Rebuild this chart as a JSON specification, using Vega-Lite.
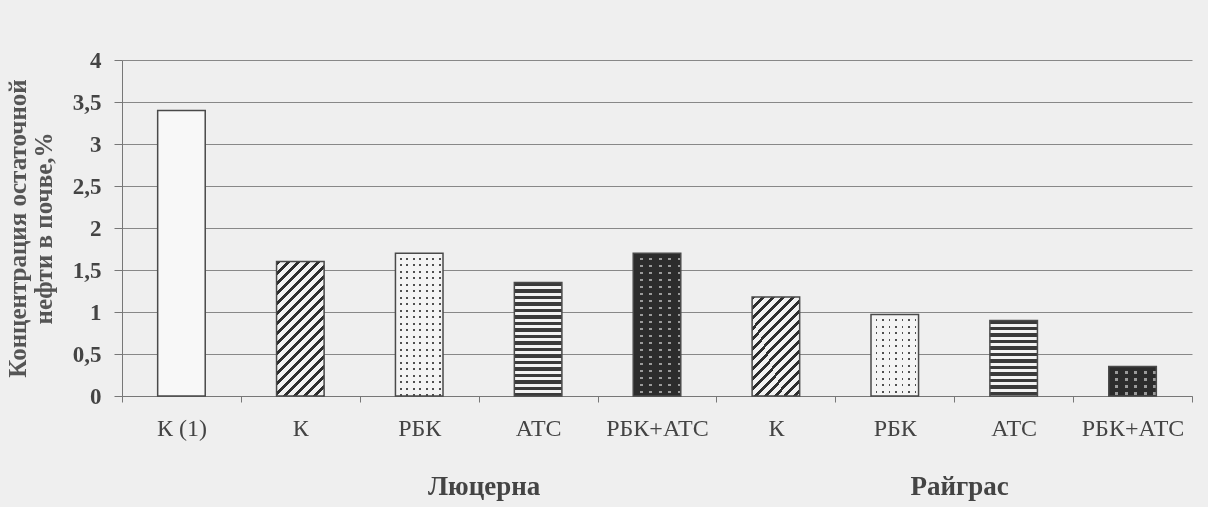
{
  "$schema": "https://vega.github.io/schema/vega-lite/v6.json",
  "width": 1070,
  "height": 336,
  "autosize": "none",
  "padding": {"left": 122, "top": 60, "right": 16, "bottom": 111},
  "background": "#efefef",
  "config": {"view": {"stroke": null}},
  "params": [
    {"name": "hst", "value": [
      {"offset":0,"color":"#3a3a3a"},{"offset":0.0275,"color":"#3a3a3a"},{"offset":0.0275,"color":"#f2f2f2"},{"offset":0.05,"color":"#f2f2f2"},
      {"offset":0.05,"color":"#3a3a3a"},{"offset":0.0775,"color":"#3a3a3a"},{"offset":0.0775,"color":"#f2f2f2"},{"offset":0.1,"color":"#f2f2f2"},
      {"offset":0.1,"color":"#3a3a3a"},{"offset":0.1275,"color":"#3a3a3a"},{"offset":0.1275,"color":"#f2f2f2"},{"offset":0.15,"color":"#f2f2f2"},
      {"offset":0.15,"color":"#3a3a3a"},{"offset":0.1775,"color":"#3a3a3a"},{"offset":0.1775,"color":"#f2f2f2"},{"offset":0.2,"color":"#f2f2f2"},
      {"offset":0.2,"color":"#3a3a3a"},{"offset":0.2275,"color":"#3a3a3a"},{"offset":0.2275,"color":"#f2f2f2"},{"offset":0.25,"color":"#f2f2f2"},
      {"offset":0.25,"color":"#3a3a3a"},{"offset":0.2775,"color":"#3a3a3a"},{"offset":0.2775,"color":"#f2f2f2"},{"offset":0.3,"color":"#f2f2f2"},
      {"offset":0.3,"color":"#3a3a3a"},{"offset":0.3275,"color":"#3a3a3a"},{"offset":0.3275,"color":"#f2f2f2"},{"offset":0.35,"color":"#f2f2f2"},
      {"offset":0.35,"color":"#3a3a3a"},{"offset":0.3775,"color":"#3a3a3a"},{"offset":0.3775,"color":"#f2f2f2"},{"offset":0.4,"color":"#f2f2f2"},
      {"offset":0.4,"color":"#3a3a3a"},{"offset":0.4275,"color":"#3a3a3a"},{"offset":0.4275,"color":"#f2f2f2"},{"offset":0.45,"color":"#f2f2f2"},
      {"offset":0.45,"color":"#3a3a3a"},{"offset":0.4775,"color":"#3a3a3a"},{"offset":0.4775,"color":"#f2f2f2"},{"offset":0.5,"color":"#f2f2f2"},
      {"offset":0.5,"color":"#3a3a3a"},{"offset":0.5275,"color":"#3a3a3a"},{"offset":0.5275,"color":"#f2f2f2"},{"offset":0.55,"color":"#f2f2f2"},
      {"offset":0.55,"color":"#3a3a3a"},{"offset":0.5775,"color":"#3a3a3a"},{"offset":0.5775,"color":"#f2f2f2"},{"offset":0.6,"color":"#f2f2f2"},
      {"offset":0.6,"color":"#3a3a3a"},{"offset":0.6275,"color":"#3a3a3a"},{"offset":0.6275,"color":"#f2f2f2"},{"offset":0.65,"color":"#f2f2f2"},
      {"offset":0.65,"color":"#3a3a3a"},{"offset":0.6775,"color":"#3a3a3a"},{"offset":0.6775,"color":"#f2f2f2"},{"offset":0.7,"color":"#f2f2f2"},
      {"offset":0.7,"color":"#3a3a3a"},{"offset":0.7275,"color":"#3a3a3a"},{"offset":0.7275,"color":"#f2f2f2"},{"offset":0.75,"color":"#f2f2f2"},
      {"offset":0.75,"color":"#3a3a3a"},{"offset":0.7775,"color":"#3a3a3a"},{"offset":0.7775,"color":"#f2f2f2"},{"offset":0.8,"color":"#f2f2f2"},
      {"offset":0.8,"color":"#3a3a3a"},{"offset":0.8275,"color":"#3a3a3a"},{"offset":0.8275,"color":"#f2f2f2"},{"offset":0.85,"color":"#f2f2f2"},
      {"offset":0.85,"color":"#3a3a3a"},{"offset":0.8775,"color":"#3a3a3a"},{"offset":0.8775,"color":"#f2f2f2"},{"offset":0.9,"color":"#f2f2f2"},
      {"offset":0.9,"color":"#3a3a3a"},{"offset":0.9275,"color":"#3a3a3a"},{"offset":0.9275,"color":"#f2f2f2"},{"offset":0.95,"color":"#f2f2f2"},
      {"offset":0.95,"color":"#3a3a3a"},{"offset":0.9775,"color":"#3a3a3a"},{"offset":0.9775,"color":"#f2f2f2"},{"offset":1,"color":"#f2f2f2"}
    ]},
    {"name": "dia", "value": [
      {"offset":0,"color":"#2e2e2e"},{"offset":0.02,"color":"#2e2e2e"},{"offset":0.02,"color":"#f2f2f2"},{"offset":0.05,"color":"#f2f2f2"},
      {"offset":0.05,"color":"#2e2e2e"},{"offset":0.07,"color":"#2e2e2e"},{"offset":0.07,"color":"#f2f2f2"},{"offset":0.1,"color":"#f2f2f2"},
      {"offset":0.1,"color":"#2e2e2e"},{"offset":0.12,"color":"#2e2e2e"},{"offset":0.12,"color":"#f2f2f2"},{"offset":0.15,"color":"#f2f2f2"},
      {"offset":0.15,"color":"#2e2e2e"},{"offset":0.17,"color":"#2e2e2e"},{"offset":0.17,"color":"#f2f2f2"},{"offset":0.2,"color":"#f2f2f2"},
      {"offset":0.2,"color":"#2e2e2e"},{"offset":0.22,"color":"#2e2e2e"},{"offset":0.22,"color":"#f2f2f2"},{"offset":0.25,"color":"#f2f2f2"},
      {"offset":0.25,"color":"#2e2e2e"},{"offset":0.27,"color":"#2e2e2e"},{"offset":0.27,"color":"#f2f2f2"},{"offset":0.3,"color":"#f2f2f2"},
      {"offset":0.3,"color":"#2e2e2e"},{"offset":0.32,"color":"#2e2e2e"},{"offset":0.32,"color":"#f2f2f2"},{"offset":0.35,"color":"#f2f2f2"},
      {"offset":0.35,"color":"#2e2e2e"},{"offset":0.37,"color":"#2e2e2e"},{"offset":0.37,"color":"#f2f2f2"},{"offset":0.4,"color":"#f2f2f2"},
      {"offset":0.4,"color":"#2e2e2e"},{"offset":0.42,"color":"#2e2e2e"},{"offset":0.42,"color":"#f2f2f2"},{"offset":0.45,"color":"#f2f2f2"},
      {"offset":0.45,"color":"#2e2e2e"},{"offset":0.47,"color":"#2e2e2e"},{"offset":0.47,"color":"#f2f2f2"},{"offset":0.5,"color":"#f2f2f2"},
      {"offset":0.5,"color":"#2e2e2e"},{"offset":0.52,"color":"#2e2e2e"},{"offset":0.52,"color":"#f2f2f2"},{"offset":0.55,"color":"#f2f2f2"},
      {"offset":0.55,"color":"#2e2e2e"},{"offset":0.57,"color":"#2e2e2e"},{"offset":0.57,"color":"#f2f2f2"},{"offset":0.6,"color":"#f2f2f2"},
      {"offset":0.6,"color":"#2e2e2e"},{"offset":0.62,"color":"#2e2e2e"},{"offset":0.62,"color":"#f2f2f2"},{"offset":0.65,"color":"#f2f2f2"},
      {"offset":0.65,"color":"#2e2e2e"},{"offset":0.67,"color":"#2e2e2e"},{"offset":0.67,"color":"#f2f2f2"},{"offset":0.7,"color":"#f2f2f2"},
      {"offset":0.7,"color":"#2e2e2e"},{"offset":0.72,"color":"#2e2e2e"},{"offset":0.72,"color":"#f2f2f2"},{"offset":0.75,"color":"#f2f2f2"},
      {"offset":0.75,"color":"#2e2e2e"},{"offset":0.77,"color":"#2e2e2e"},{"offset":0.77,"color":"#f2f2f2"},{"offset":0.8,"color":"#f2f2f2"},
      {"offset":0.8,"color":"#2e2e2e"},{"offset":0.82,"color":"#2e2e2e"},{"offset":0.82,"color":"#f2f2f2"},{"offset":0.85,"color":"#f2f2f2"},
      {"offset":0.85,"color":"#2e2e2e"},{"offset":0.87,"color":"#2e2e2e"},{"offset":0.87,"color":"#f2f2f2"},{"offset":0.9,"color":"#f2f2f2"},
      {"offset":0.9,"color":"#2e2e2e"},{"offset":0.92,"color":"#2e2e2e"},{"offset":0.92,"color":"#f2f2f2"},{"offset":0.95,"color":"#f2f2f2"},
      {"offset":0.95,"color":"#2e2e2e"},{"offset":0.97,"color":"#2e2e2e"},{"offset":0.97,"color":"#f2f2f2"},{"offset":1,"color":"#f2f2f2"}
    ]},
    {"name": "ldot", "value": [
      {"offset":0,"color":"#f4f4f4"},{"offset":0.028,"color":"#f4f4f4"},{"offset":0.028,"color":"#505050"},{"offset":0.04,"color":"#505050"},
      {"offset":0.04,"color":"#f4f4f4"},{"offset":0.068,"color":"#f4f4f4"},{"offset":0.068,"color":"#505050"},{"offset":0.08,"color":"#505050"},
      {"offset":0.08,"color":"#f4f4f4"},{"offset":0.108,"color":"#f4f4f4"},{"offset":0.108,"color":"#505050"},{"offset":0.12,"color":"#505050"},
      {"offset":0.12,"color":"#f4f4f4"},{"offset":0.148,"color":"#f4f4f4"},{"offset":0.148,"color":"#505050"},{"offset":0.16,"color":"#505050"},
      {"offset":0.16,"color":"#f4f4f4"},{"offset":0.188,"color":"#f4f4f4"},{"offset":0.188,"color":"#505050"},{"offset":0.2,"color":"#505050"},
      {"offset":0.2,"color":"#f4f4f4"},{"offset":0.228,"color":"#f4f4f4"},{"offset":0.228,"color":"#505050"},{"offset":0.24,"color":"#505050"},
      {"offset":0.24,"color":"#f4f4f4"},{"offset":0.268,"color":"#f4f4f4"},{"offset":0.268,"color":"#505050"},{"offset":0.28,"color":"#505050"},
      {"offset":0.28,"color":"#f4f4f4"},{"offset":0.308,"color":"#f4f4f4"},{"offset":0.308,"color":"#505050"},{"offset":0.32,"color":"#505050"},
      {"offset":0.32,"color":"#f4f4f4"},{"offset":0.348,"color":"#f4f4f4"},{"offset":0.348,"color":"#505050"},{"offset":0.36,"color":"#505050"},
      {"offset":0.36,"color":"#f4f4f4"},{"offset":0.388,"color":"#f4f4f4"},{"offset":0.388,"color":"#505050"},{"offset":0.4,"color":"#505050"},
      {"offset":0.4,"color":"#f4f4f4"},{"offset":0.428,"color":"#f4f4f4"},{"offset":0.428,"color":"#505050"},{"offset":0.44,"color":"#505050"},
      {"offset":0.44,"color":"#f4f4f4"},{"offset":0.468,"color":"#f4f4f4"},{"offset":0.468,"color":"#505050"},{"offset":0.48,"color":"#505050"},
      {"offset":0.48,"color":"#f4f4f4"},{"offset":0.508,"color":"#f4f4f4"},{"offset":0.508,"color":"#505050"},{"offset":0.52,"color":"#505050"},
      {"offset":0.52,"color":"#f4f4f4"},{"offset":0.548,"color":"#f4f4f4"},{"offset":0.548,"color":"#505050"},{"offset":0.56,"color":"#505050"},
      {"offset":0.56,"color":"#f4f4f4"},{"offset":0.588,"color":"#f4f4f4"},{"offset":0.588,"color":"#505050"},{"offset":0.6,"color":"#505050"},
      {"offset":0.6,"color":"#f4f4f4"},{"offset":0.628,"color":"#f4f4f4"},{"offset":0.628,"color":"#505050"},{"offset":0.64,"color":"#505050"},
      {"offset":0.64,"color":"#f4f4f4"},{"offset":0.668,"color":"#f4f4f4"},{"offset":0.668,"color":"#505050"},{"offset":0.68,"color":"#505050"},
      {"offset":0.68,"color":"#f4f4f4"},{"offset":0.708,"color":"#f4f4f4"},{"offset":0.708,"color":"#505050"},{"offset":0.72,"color":"#505050"},
      {"offset":0.72,"color":"#f4f4f4"},{"offset":0.748,"color":"#f4f4f4"},{"offset":0.748,"color":"#505050"},{"offset":0.76,"color":"#505050"},
      {"offset":0.76,"color":"#f4f4f4"},{"offset":0.788,"color":"#f4f4f4"},{"offset":0.788,"color":"#505050"},{"offset":0.8,"color":"#505050"},
      {"offset":0.8,"color":"#f4f4f4"},{"offset":0.828,"color":"#f4f4f4"},{"offset":0.828,"color":"#505050"},{"offset":0.84,"color":"#505050"},
      {"offset":0.84,"color":"#f4f4f4"},{"offset":0.868,"color":"#f4f4f4"},{"offset":0.868,"color":"#505050"},{"offset":0.88,"color":"#505050"},
      {"offset":0.88,"color":"#f4f4f4"},{"offset":0.908,"color":"#f4f4f4"},{"offset":0.908,"color":"#505050"},{"offset":0.92,"color":"#505050"},
      {"offset":0.92,"color":"#f4f4f4"},{"offset":0.948,"color":"#f4f4f4"},{"offset":0.948,"color":"#505050"},{"offset":0.96,"color":"#505050"},
      {"offset":0.96,"color":"#f4f4f4"},{"offset":0.988,"color":"#f4f4f4"},{"offset":0.988,"color":"#505050"},{"offset":1,"color":"#505050"}
    ]},
    {"name": "ddot", "value": [
      {"offset":0,"color":"#2c2c2c"},{"offset":0.028,"color":"#2c2c2c"},{"offset":0.028,"color":"#9a9a9a"},{"offset":0.04,"color":"#9a9a9a"},
      {"offset":0.04,"color":"#2c2c2c"},{"offset":0.068,"color":"#2c2c2c"},{"offset":0.068,"color":"#9a9a9a"},{"offset":0.08,"color":"#9a9a9a"},
      {"offset":0.08,"color":"#2c2c2c"},{"offset":0.108,"color":"#2c2c2c"},{"offset":0.108,"color":"#9a9a9a"},{"offset":0.12,"color":"#9a9a9a"},
      {"offset":0.12,"color":"#2c2c2c"},{"offset":0.148,"color":"#2c2c2c"},{"offset":0.148,"color":"#9a9a9a"},{"offset":0.16,"color":"#9a9a9a"},
      {"offset":0.16,"color":"#2c2c2c"},{"offset":0.188,"color":"#2c2c2c"},{"offset":0.188,"color":"#9a9a9a"},{"offset":0.2,"color":"#9a9a9a"},
      {"offset":0.2,"color":"#2c2c2c"},{"offset":0.228,"color":"#2c2c2c"},{"offset":0.228,"color":"#9a9a9a"},{"offset":0.24,"color":"#9a9a9a"},
      {"offset":0.24,"color":"#2c2c2c"},{"offset":0.268,"color":"#2c2c2c"},{"offset":0.268,"color":"#9a9a9a"},{"offset":0.28,"color":"#9a9a9a"},
      {"offset":0.28,"color":"#2c2c2c"},{"offset":0.308,"color":"#2c2c2c"},{"offset":0.308,"color":"#9a9a9a"},{"offset":0.32,"color":"#9a9a9a"},
      {"offset":0.32,"color":"#2c2c2c"},{"offset":0.348,"color":"#2c2c2c"},{"offset":0.348,"color":"#9a9a9a"},{"offset":0.36,"color":"#9a9a9a"},
      {"offset":0.36,"color":"#2c2c2c"},{"offset":0.388,"color":"#2c2c2c"},{"offset":0.388,"color":"#9a9a9a"},{"offset":0.4,"color":"#9a9a9a"},
      {"offset":0.4,"color":"#2c2c2c"},{"offset":0.428,"color":"#2c2c2c"},{"offset":0.428,"color":"#9a9a9a"},{"offset":0.44,"color":"#9a9a9a"},
      {"offset":0.44,"color":"#2c2c2c"},{"offset":0.468,"color":"#2c2c2c"},{"offset":0.468,"color":"#9a9a9a"},{"offset":0.48,"color":"#9a9a9a"},
      {"offset":0.48,"color":"#2c2c2c"},{"offset":0.508,"color":"#2c2c2c"},{"offset":0.508,"color":"#9a9a9a"},{"offset":0.52,"color":"#9a9a9a"},
      {"offset":0.52,"color":"#2c2c2c"},{"offset":0.548,"color":"#2c2c2c"},{"offset":0.548,"color":"#9a9a9a"},{"offset":0.56,"color":"#9a9a9a"},
      {"offset":0.56,"color":"#2c2c2c"},{"offset":0.588,"color":"#2c2c2c"},{"offset":0.588,"color":"#9a9a9a"},{"offset":0.6,"color":"#9a9a9a"},
      {"offset":0.6,"color":"#2c2c2c"},{"offset":0.628,"color":"#2c2c2c"},{"offset":0.628,"color":"#9a9a9a"},{"offset":0.64,"color":"#9a9a9a"},
      {"offset":0.64,"color":"#2c2c2c"},{"offset":0.668,"color":"#2c2c2c"},{"offset":0.668,"color":"#9a9a9a"},{"offset":0.68,"color":"#9a9a9a"},
      {"offset":0.68,"color":"#2c2c2c"},{"offset":0.708,"color":"#2c2c2c"},{"offset":0.708,"color":"#9a9a9a"},{"offset":0.72,"color":"#9a9a9a"},
      {"offset":0.72,"color":"#2c2c2c"},{"offset":0.748,"color":"#2c2c2c"},{"offset":0.748,"color":"#9a9a9a"},{"offset":0.76,"color":"#9a9a9a"},
      {"offset":0.76,"color":"#2c2c2c"},{"offset":0.788,"color":"#2c2c2c"},{"offset":0.788,"color":"#9a9a9a"},{"offset":0.8,"color":"#9a9a9a"},
      {"offset":0.8,"color":"#2c2c2c"},{"offset":0.828,"color":"#2c2c2c"},{"offset":0.828,"color":"#9a9a9a"},{"offset":0.84,"color":"#9a9a9a"},
      {"offset":0.84,"color":"#2c2c2c"},{"offset":0.868,"color":"#2c2c2c"},{"offset":0.868,"color":"#9a9a9a"},{"offset":0.88,"color":"#9a9a9a"},
      {"offset":0.88,"color":"#2c2c2c"},{"offset":0.908,"color":"#2c2c2c"},{"offset":0.908,"color":"#9a9a9a"},{"offset":0.92,"color":"#9a9a9a"},
      {"offset":0.92,"color":"#2c2c2c"},{"offset":0.948,"color":"#2c2c2c"},{"offset":0.948,"color":"#9a9a9a"},{"offset":0.96,"color":"#9a9a9a"},
      {"offset":0.96,"color":"#2c2c2c"},{"offset":0.988,"color":"#2c2c2c"},{"offset":0.988,"color":"#9a9a9a"},{"offset":1,"color":"#9a9a9a"}
    ]}
  ],
  "data": {"values": [
    {"key": "Л|К (1)", "crop": "Люцерна", "treatment": "К (1)", "value": 3.4},
    {"key": "Л|К", "crop": "Люцерна", "treatment": "К", "value": 1.6},
    {"key": "Л|РБК", "crop": "Люцерна", "treatment": "РБК", "value": 1.7},
    {"key": "Л|АТС", "crop": "Люцерна", "treatment": "АТС", "value": 1.35},
    {"key": "Л|РБК+АТС", "crop": "Люцерна", "treatment": "РБК+АТС", "value": 1.7},
    {"key": "Р|К", "crop": "Райграс", "treatment": "К", "value": 1.18},
    {"key": "Р|РБК", "crop": "Райграс", "treatment": "РБК", "value": 0.97},
    {"key": "Р|АТС", "crop": "Райграс", "treatment": "АТС", "value": 0.9},
    {"key": "Р|РБК+АТС", "crop": "Райграс", "treatment": "РБК+АТС", "value": 0.35}
  ]},
  "encoding": {
    "x": {
      "field": "key", "type": "nominal",
      "scale": {"domain": ["Л|К (1)", "Л|К", "Л|РБК", "Л|АТС", "Л|РБК+АТС", "Р|К", "Р|РБК", "Р|АТС", "Р|РБК+АТС"], "paddingInner": 0, "paddingOuter": 0},
      "axis": {
        "title": null, "labelAngle": 0, "labelExpr": "split(datum.label,'|')[1]",
        "tickBand": "extent", "tickSize": 6, "tickColor": "#777", "domainColor": "#777",
        "labelFont": "Liberation Serif", "labelFontSize": 24, "labelColor": "#444", "labelPadding": 14, "grid": false
      }
    },
    "y": {
      "field": "value", "type": "quantitative",
      "scale": {"domain": [0, 4], "nice": false},
      "axis": {
        "values": [0, 0.5, 1, 1.5, 2, 2.5, 3, 3.5, 4],
        "labelExpr": "replace(format(datum.value,'~g'),'.',',')",
        "labelFont": "Liberation Serif", "labelFontSize": 23, "labelFontWeight": "bold", "labelColor": "#444", "labelPadding": 13,
        "tickSize": 8, "tickColor": "#777", "domainColor": "#777", "gridColor": "#888", "grid": true,
        "title": ["Концентрация остаточной", "нефти в почве,%"],
        "titleFont": "Liberation Serif", "titleFontSize": 25, "titleFontWeight": "bold", "titleColor": "#555",
        "titleAngle": -90, "titleX": -117, "titleY": 168, "titleAlign": "center", "titleBaseline": "top", "titleLineHeight": 26
      }
    }
  },
  "layer": [
    {"transform": [{"filter": {"field": "key", "equal": "Л|К (1)"}}],
     "mark": {"type": "bar", "width": {"band": 0.4}, "fill": "#f8f8f8"}},
    {"transform": [{"filter": {"field": "key", "equal": "Л|К"}}],
     "mark": {"type": "bar", "width": {"band": 0.4}, "fill": {"expr": "{gradient:'linear',x1:0,y1:0,x2:0.468,y2:1.322,stops:dia}"}}},
    {"transform": [{"filter": {"field": "key", "equal": "Р|К"}}],
     "mark": {"type": "bar", "width": {"band": 0.4}, "fill": {"expr": "{gradient:'linear',x1:0,y1:0,x2:0.788,y2:1.64,stops:dia}"}}},
    {"transform": [{"filter": {"field": "key", "equal": "Л|АТС"}}],
     "mark": {"type": "bar", "width": {"band": 0.4}, "fill": {"expr": "{gradient:'linear',x1:0,y1:0,x2:0,y2:1.146,stops:hst}"}}},
    {"transform": [{"filter": {"field": "key", "equal": "Р|АТС"}}],
     "mark": {"type": "bar", "width": {"band": 0.4}, "fill": {"expr": "{gradient:'linear',x1:0,y1:0,x2:0,y2:1.72,stops:hst}"}}},
    {"transform": [{"filter": {"field": "key", "equal": "Л|РБК"}}],
     "mark": {"type": "bar", "width": {"band": 0.4}, "fill": {"expr": "{gradient:'linear',x1:0,y1:0,x2:0,y2:1.138,stops:ldot}"}}},
    {"transform": [{"filter": {"field": "key", "equal": "Л|РБК"}}],
     "mark": {"type": "bar", "width": {"band": 0.4}, "blend": "lighten", "fill": {"expr": "{gradient:'linear',x1:0,y1:0,x2:3.417,y2:0,stops:ldot}"}}},
    {"transform": [{"filter": {"field": "key", "equal": "Р|РБК"}}],
     "mark": {"type": "bar", "width": {"band": 0.4}, "fill": {"expr": "{gradient:'linear',x1:0,y1:0,x2:0,y2:1.994,stops:ldot}"}}},
    {"transform": [{"filter": {"field": "key", "equal": "Р|РБК"}}],
     "mark": {"type": "bar", "width": {"band": 0.4}, "blend": "lighten", "fill": {"expr": "{gradient:'linear',x1:0,y1:0,x2:3.417,y2:0,stops:ldot}"}}},
    {"transform": [{"filter": {"field": "key", "equal": "Л|РБК+АТС"}}],
     "mark": {"type": "bar", "width": {"band": 0.4}, "fill": {"expr": "{gradient:'linear',x1:0,y1:0,x2:0,y2:1.225,stops:ddot}"}}},
    {"transform": [{"filter": {"field": "key", "equal": "Л|РБК+АТС"}}],
     "mark": {"type": "bar", "width": {"band": 0.4}, "blend": "darken", "fill": {"expr": "{gradient:'linear',x1:0,y1:0,x2:4.994,y2:0,stops:ddot}"}}},
    {"transform": [{"filter": {"field": "key", "equal": "Р|РБК+АТС"}}],
     "mark": {"type": "bar", "width": {"band": 0.4}, "fill": {"expr": "{gradient:'linear',x1:0,y1:0,x2:0,y2:5.952,stops:ddot}"}}},
    {"transform": [{"filter": {"field": "key", "equal": "Р|РБК+АТС"}}],
     "mark": {"type": "bar", "width": {"band": 0.4}, "blend": "darken", "fill": {"expr": "{gradient:'linear',x1:0,y1:0,x2:4.994,y2:0,stops:ddot}"}}},
    {"mark": {"type": "bar", "width": {"band": 0.4}, "fill": "transparent", "stroke": "#4a4a4a", "strokeWidth": 1.5}},
    {
      "transform": [{"filter": {"field": "treatment", "equal": "АТС"}}],
      "mark": {"type": "text", "font": "Liberation Serif", "fontSize": 27, "fontWeight": "bold", "fill": "#444", "baseline": "middle", "align": "center", "dy": 91, "dx": -54},
      "encoding": {
        "y": {"datum": 0, "type": "quantitative"},
        "text": {"field": "crop", "type": "nominal"}
      }
    }
  ]
}
